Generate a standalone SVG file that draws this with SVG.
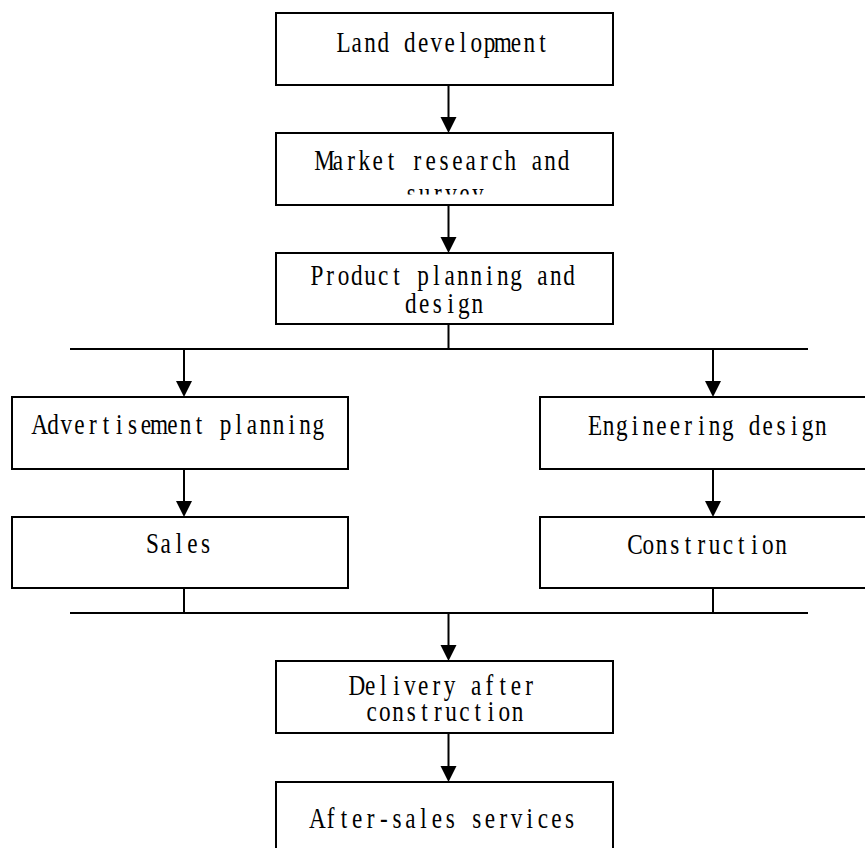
<svg xmlns="http://www.w3.org/2000/svg" width="865" height="848" viewBox="0 0 865 848">
  <style>
    .box { fill: #ffffff; stroke: #000000; stroke-width: 2; }
    /* fixed-pitch serif labels: every glyph is centred in its own cell */
    .lbl { font-family: "Liberation Serif", "Times New Roman", serif; font-size: 29px; fill: #000000; text-anchor: middle; }
    .wire { fill: none; stroke: #000000; stroke-width: 2; }
    .head { fill: #000000; }
  </style>
  <defs>
    <clipPath id="clipMarket"><rect x="276" y="133" width="337" height="61.5"/></clipPath>
    <clipPath id="clipProduct"><rect x="276" y="253" width="337" height="66.5"/></clipPath>
  </defs>

  <rect width="865" height="848" fill="#ffffff"/>

  <!-- connectors: trunk, split and merge bars, arrowheads -->
  <g id="connectors">
    <line class="wire" x1="448.5" y1="85" x2="448.5" y2="118"/>
    <polygon class="head" points="440.5,117 456.5,117 448.5,133"/>
    <line class="wire" x1="448.5" y1="205" x2="448.5" y2="238"/>
    <polygon class="head" points="440.5,237 456.5,237 448.5,253"/>
    <line class="wire" x1="448.5" y1="324" x2="448.5" y2="349"/>
    <line class="wire" x1="70" y1="349" x2="808" y2="349"/>
    <line class="wire" x1="184" y1="349" x2="184" y2="382"/>
    <polygon class="head" points="176,381 192,381 184,397"/>
    <line class="wire" x1="713" y1="349" x2="713" y2="382"/>
    <polygon class="head" points="705,381 721,381 713,397"/>
    <line class="wire" x1="184" y1="469" x2="184" y2="502"/>
    <polygon class="head" points="176,501 192,501 184,517"/>
    <line class="wire" x1="713" y1="469" x2="713" y2="502"/>
    <polygon class="head" points="705,501 721,501 713,517"/>
    <line class="wire" x1="184" y1="588" x2="184" y2="613"/>
    <line class="wire" x1="713" y1="588" x2="713" y2="613"/>
    <line class="wire" x1="70" y1="613" x2="808" y2="613"/>
    <line class="wire" x1="448.5" y1="613" x2="448.5" y2="646"/>
    <polygon class="head" points="440.5,645 456.5,645 448.5,661"/>
    <line class="wire" x1="448.5" y1="733" x2="448.5" y2="767"/>
    <polygon class="head" points="440.5,766 456.5,766 448.5,782"/>
  </g>

  <g id="land">
    <rect class="box" x="276" y="13" width="337" height="72"/>
    <text class="lbl" transform="translate(443 0) scale(0.8 1)" y="52" x="-124.4 -107.8 -91.2 -74.7 -58.1 -41.5 -24.9 -8.3 8.3 24.9 41.5 58.1 74.7 91.2 107.8 124.4">Land development</text>
  </g>

  <g id="market">
    <rect class="box" x="276" y="133" width="337" height="72"/>
    <g clip-path="url(#clipMarket)">
      <text class="lbl" transform="translate(444 0) scale(0.8 1)" y="170" x="-149.3 -132.7 -116.1 -99.5 -83.0 -66.4 -49.8 -33.2 -16.6 0 16.6 33.2 49.8 66.4 83.0 99.5 116.1 132.7 149.3">Market research and</text>
      <text class="lbl" transform="translate(444.5 0) scale(0.8 1)" y="203" x="-41.5 -24.9 -8.3 8.3 24.9 41.5">survey</text>
    </g>
  </g>

  <g id="product">
    <rect class="box" x="276" y="253" width="337" height="71"/>
    <g clip-path="url(#clipProduct)">
      <text class="lbl" transform="translate(443 0) scale(0.8 1)" y="285" x="-157.6 -141.0 -124.4 -107.8 -91.2 -74.7 -58.1 -41.5 -24.9 -8.3 8.3 24.9 41.5 58.1 74.7 91.2 107.8 124.4 141.0 157.6">Product planning and</text>
      <text class="lbl" transform="translate(444 0) scale(0.8 1)" y="313" x="-41.5 -24.9 -8.3 8.3 24.9 41.5">design</text>
    </g>
  </g>

  <g id="advertisement">
    <rect class="box" x="12" y="397" width="336" height="72"/>
    <text class="lbl" transform="translate(179 0) scale(0.8 1)" y="434" x="-174.2 -157.6 -141.0 -124.4 -107.8 -91.2 -74.7 -58.1 -41.5 -24.9 -8.3 8.3 24.9 41.5 58.1 74.7 91.2 107.8 124.4 141.0 157.6 174.2">Advertisement planning</text>
  </g>

  <g id="sales">
    <rect class="box" x="12" y="517" width="336" height="71"/>
    <text class="lbl" transform="translate(179 0) scale(0.8 1)" y="553" x="-33.2 -16.6 0 16.6 33.2">Sales</text>
  </g>

  <g id="engineering">
    <rect class="box" x="540" y="397" width="336" height="72"/>
    <text class="lbl" transform="translate(708 0) scale(0.8 1)" y="435" x="-141.0 -124.4 -107.8 -91.2 -74.7 -58.1 -41.5 -24.9 -8.3 8.3 24.9 41.5 58.1 74.7 91.2 107.8 124.4 141.0">Engineering design</text>
  </g>

  <g id="construction">
    <rect class="box" x="540" y="517" width="336" height="71"/>
    <text class="lbl" transform="translate(708 0) scale(0.8 1)" y="554" x="-91.2 -74.7 -58.1 -41.5 -24.9 -8.3 8.3 24.9 41.5 58.1 74.7 91.2">Construction</text>
  </g>

  <g id="delivery">
    <rect class="box" x="276" y="661" width="337" height="72"/>
    <text class="lbl" transform="translate(443 0) scale(0.8 1)" y="695" x="-107.8 -91.2 -74.7 -58.1 -41.5 -24.9 -8.3 8.3 24.9 41.5 58.1 74.7 91.2 107.8">Delivery after</text>
    <text class="lbl" transform="translate(444.5 0) scale(0.8 1)" y="721" x="-91.2 -74.7 -58.1 -41.5 -24.9 -8.3 8.3 24.9 41.5 58.1 74.7 91.2">construction</text>
  </g>

  <g id="aftersales">
    <rect class="box" x="276" y="782" width="337" height="72"/>
    <text class="lbl" transform="translate(443.5 0) scale(0.8 1)" y="828" x="-157.6 -141.0 -124.4 -107.8 -91.2 -74.7 -58.1 -41.5 -24.9 -8.3 8.3 24.9 41.5 58.1 74.7 91.2 107.8 124.4 141.0 157.6">After-sales services</text>
  </g>
</svg>
